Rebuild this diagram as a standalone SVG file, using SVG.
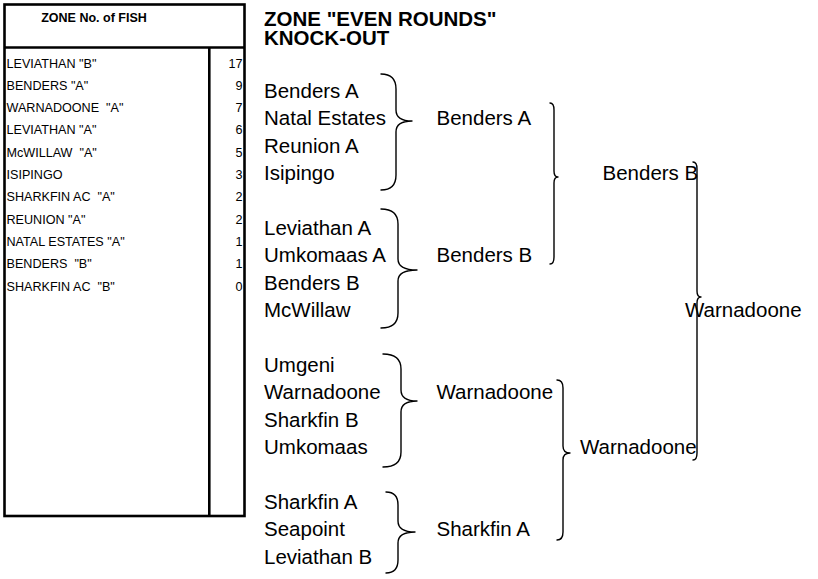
<svg xmlns="http://www.w3.org/2000/svg" width="818" height="579" viewBox="0 0 818 579">
<style>
.tb{font-family:"Liberation Sans",Arial,sans-serif;font-size:12.6px;fill:#000;white-space:pre}
.th{font-family:"Liberation Sans",Arial,sans-serif;font-size:12.5px;font-weight:bold;fill:#000}
.ttl{font-family:"Liberation Sans",Arial,sans-serif;font-size:20.5px;font-weight:bold;fill:#000}
.nm{font-family:"Liberation Sans",Arial,sans-serif;font-size:20.5px;fill:#000}
.num{text-anchor:end}
.br{fill:none;stroke:#000;stroke-width:1.4;stroke-linejoin:round;stroke-linecap:round}
.grid{fill:none;stroke:#000;stroke-width:2.6}
</style>
<rect width="818" height="579" fill="#fff"/>
<g id="zone-table">
<rect class="grid" x="4.5" y="4.5" width="240" height="511.5"/>
<line class="grid" x1="4.5" y1="47.5" x2="244.5" y2="47.5"/>
<line class="grid" x1="209.3" y1="47.5" x2="209.3" y2="516"/>
<text class="th" x="94" y="21.5" text-anchor="middle">ZONE No. of FISH</text>
<text class="tb" x="6.5" y="67.5">LEVIATHAN &quot;B&quot;</text><text class="tb num" x="242.5" y="67.5">17</text>
<text class="tb" x="6.5" y="89.8">BENDERS &quot;A&quot;</text><text class="tb num" x="242.5" y="89.8">9</text>
<text class="tb" x="6.5" y="112.1">WARNADOONE  &quot;A&quot;</text><text class="tb num" x="242.5" y="112.1">7</text>
<text class="tb" x="6.5" y="134.4">LEVIATHAN &quot;A&quot;</text><text class="tb num" x="242.5" y="134.4">6</text>
<text class="tb" x="6.5" y="156.7">McWILLAW  &quot;A&quot;</text><text class="tb num" x="242.5" y="156.7">5</text>
<text class="tb" x="6.5" y="179">ISIPINGO</text><text class="tb num" x="242.5" y="179">3</text>
<text class="tb" x="6.5" y="201.3">SHARKFIN AC  &quot;A&quot;</text><text class="tb num" x="242.5" y="201.3">2</text>
<text class="tb" x="6.5" y="223.6">REUNION &quot;A&quot;</text><text class="tb num" x="242.5" y="223.6">2</text>
<text class="tb" x="6.5" y="245.9">NATAL ESTATES &quot;A&quot;</text><text class="tb num" x="242.5" y="245.9">1</text>
<text class="tb" x="6.5" y="268.2">BENDERS  &quot;B&quot;</text><text class="tb num" x="242.5" y="268.2">1</text>
<text class="tb" x="6.5" y="290.5">SHARKFIN AC  &quot;B&quot;</text><text class="tb num" x="242.5" y="290.5">0</text>
</g>
<g id="title">
<text class="ttl" x="264" y="25.5">ZONE &quot;EVEN ROUNDS&quot;</text>
<text class="ttl" x="264" y="44.5">KNOCK-OUT</text>
</g>
<g id="round1">
<g id="r1-benders-a"><text class="nm" x="264" y="98">Benders A</text></g>
<g id="r1-natal-estates"><text class="nm" x="264" y="125.4">Natal Estates</text></g>
<g id="r1-reunion-a"><text class="nm" x="264" y="152.8">Reunion A</text></g>
<g id="r1-isipingo"><text class="nm" x="264" y="180.2">Isipingo</text></g>
<g id="r1-leviathan-a"><text class="nm" x="264" y="235">Leviathan A</text></g>
<g id="r1-umkomaas-a"><text class="nm" x="264" y="262.4">Umkomaas A</text></g>
<g id="r1-benders-b"><text class="nm" x="264" y="289.8">Benders B</text></g>
<g id="r1-mcwillaw"><text class="nm" x="264" y="317.2">McWillaw</text></g>
<g id="r1-umgeni"><text class="nm" x="264" y="372">Umgeni</text></g>
<g id="r1-warnadoone"><text class="nm" x="264" y="399.4">Warnadoone</text></g>
<g id="r1-sharkfin-b"><text class="nm" x="264" y="426.8">Sharkfin B</text></g>
<g id="r1-umkomaas"><text class="nm" x="264" y="454.2">Umkomaas</text></g>
<g id="r1-sharkfin-a"><text class="nm" x="264" y="509">Sharkfin A</text></g>
<g id="r1-seapoint"><text class="nm" x="264" y="536.4">Seapoint</text></g>
<g id="r1-leviathan-b"><text class="nm" x="264" y="563.8">Leviathan B</text></g>
</g>
<g id="round2">
<g id="r2-benders-a"><text class="nm" x="436.5" y="125.4">Benders A</text></g>
<g id="r2-benders-b"><text class="nm" x="436.5" y="262.4">Benders B</text></g>
<g id="r2-warnadoone"><text class="nm" x="436.5" y="399.4">Warnadoone</text></g>
<g id="r2-sharkfin-a"><text class="nm" x="436.5" y="536.4">Sharkfin A</text></g>
</g>
<g id="round3">
<g id="r3-benders-b"><text class="nm" x="602.5" y="180.2">Benders B</text></g>
<g id="r3-warnadoone"><text class="nm" x="580" y="454.2">Warnadoone</text></g>
</g>
<g id="final">
<g id="final-warnadoone"><text class="nm" x="685" y="317.2">Warnadoone</text></g>
</g>
<g id="connectors">
<path class="br" d="M381,74 Q396,74 396,89 L396,110 Q396,121 412,121 Q396,121 396,132 L396,175 Q396,190 381,190"/>
<path class="br" d="M381,209 Q398,209 398,224 L398,259 Q398,270 417,270 Q398,270 398,281 L398,313 Q398,328 381,328"/>
<path class="br" d="M383,354 Q401,354 401,369 L401,390 Q401,401 417,401 Q401,401 401,412 L401,452 Q401,467 383,467"/>
<path class="br" d="M386,492 Q398,492 398,505 L398,521 Q398,532 415,532 Q398,532 398,543 L398,560 Q398,573 386,573"/>
<path class="br" d="M550,103 Q554,103 554,110 L554,171 Q554,177 558,177 Q554,177 554,183 L554,257 Q554,264 550,264"/>
<path class="br" d="M557,380 Q563,380 563,388 L563,446 Q563,453 570,453 Q563,453 563,460 L563,532 Q563,540 557,540"/>
<path class="br" d="M693,162 Q697,162 697,169 L697,291 Q697,297 701,297 Q697,297 697,303 L697,453 Q697,460 693,460"/>
</g>
</svg>
